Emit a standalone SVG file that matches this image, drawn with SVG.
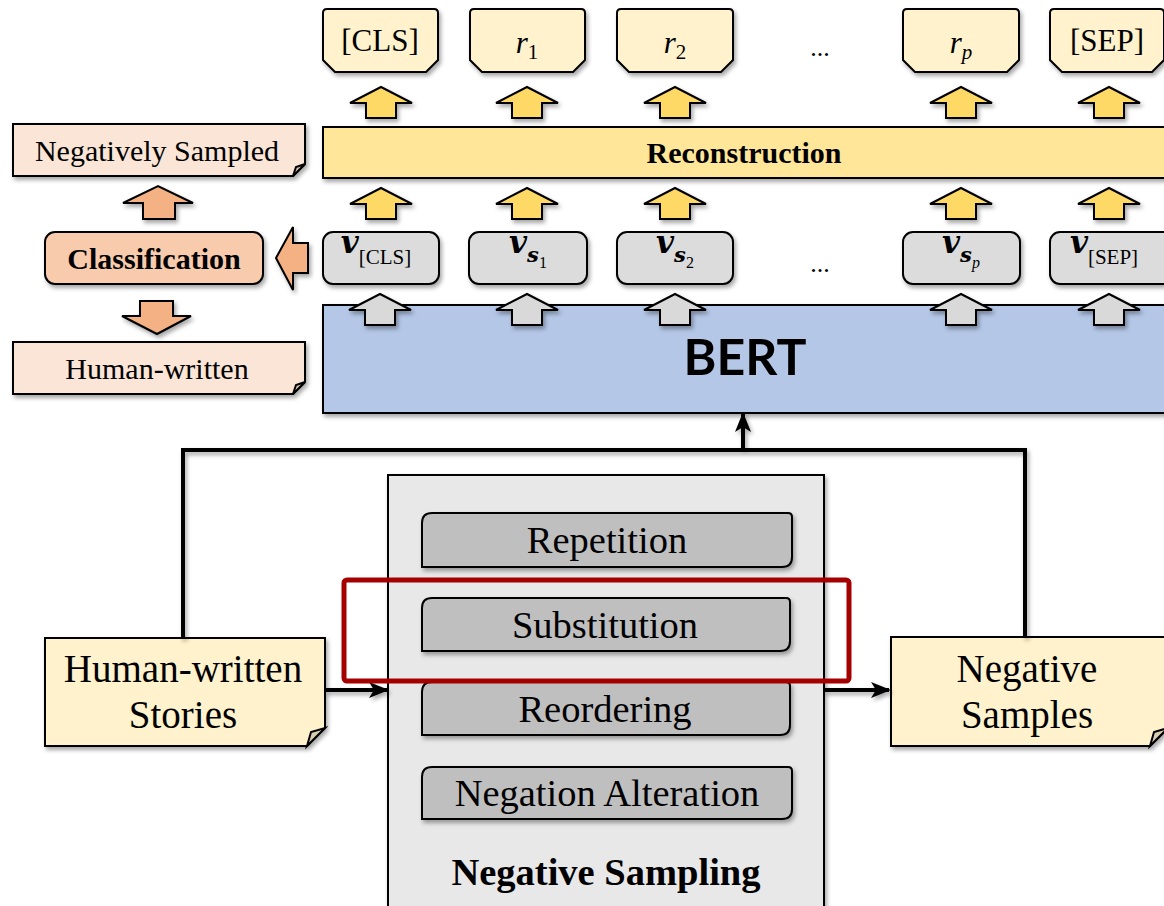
<svg xmlns="http://www.w3.org/2000/svg" xmlns:xlink="http://www.w3.org/1999/xlink" width="1164" height="906" viewBox="0 0 1164 906">
<style>
.s{stroke:#000;stroke-width:2;}
.t{font-family:"Liberation Serif","Times New Roman",serif;fill:#000;text-anchor:middle;}
.b{font-weight:bold;}
.bi{font-family:"DejaVu Serif",serif;font-weight:bold;font-style:italic;font-size:31px;}
.bis{font-family:"DejaVu Serif",serif;font-weight:bold;font-style:italic;font-size:21px;}
.sub{font-size:21px;}
.sub2{font-size:16px;}
.out{fill:#FFF2CC;}
.ya{fill:#FFD966;}
.ga{fill:#D9D9D9;}
.oa{fill:#F4B183;}
.vb{fill:#DCDCDC;}
.pk{fill:#FBE5D6;}
.ib{fill:#BFBFBF;}
.conn{fill:none;stroke:#000;stroke-width:4;}
</style>
<defs>
<filter id="sh" x="-10%" y="-10%" width="130%" height="140%">
<feDropShadow dx="2" dy="3" stdDeviation="2" flood-color="#000" flood-opacity="0.35"/>
</filter>
<path id="up" d="M-15,31 V16 H-31 L0,0 L31,16 H15 V31 Z"/>
<marker id="ah" markerUnits="userSpaceOnUse" markerWidth="20" markerHeight="20" viewBox="0 0 20 20" refX="18" refY="10" orient="auto">
<path d="M0,2 L20,10 L0,18 L5,10 Z" fill="#000"/>
</marker>
</defs>
<rect width="1164" height="906" fill="#fff"/>

<!-- output tokens -->
<g id="out-cls" filter="url(#sh)"><path class="out s" d="M327,9 H434 Q438,9 438,13 V60 L426,72 H335 L323,60 V13 Q323,9 327,9 Z"/></g>
<text class="t" x="380" y="51" font-size="31">[CLS]</text>
<g id="out-r1" filter="url(#sh)"><path class="out s" d="M474,9 H581 Q585,9 585,13 V60 L573,72 H482 L470,60 V13 Q470,9 474,9 Z"/></g>
<text class="t" x="527" y="53" font-size="31"><tspan font-style="italic">r</tspan><tspan font-size="21" dy="6">1</tspan></text>
<g id="out-r2" filter="url(#sh)"><path class="out s" d="M621,9 H729 Q733,9 733,13 V60 L721,72 H629 L617,60 V13 Q617,9 621,9 Z"/></g>
<text class="t" x="675" y="53" font-size="31"><tspan font-style="italic">r</tspan><tspan font-size="21" dy="6">2</tspan></text>
<text class="t" x="820" y="56" font-size="26">...</text>
<g id="out-rp" filter="url(#sh)"><path class="out s" d="M907,9 H1015 Q1019,9 1019,13 V60 L1007,72 H915 L903,60 V13 Q903,9 907,9 Z"/></g>
<text class="t" x="961" y="53" font-size="31"><tspan font-style="italic">r</tspan><tspan font-size="21" font-style="italic" dy="6">p</tspan></text>
<g id="out-sep" filter="url(#sh)"><path class="out s" d="M1054,9 H1160 Q1164,9 1164,13 V60 L1152,72 H1062 L1050,60 V13 Q1050,9 1054,9 Z"/></g>
<text class="t" x="1107" y="51" font-size="31">[SEP]</text>

<!-- yellow arrows row 1 -->
<g id="arrows-top" filter="url(#sh)">
<use href="#up" class="ya s" x="381" y="87"/>
<use href="#up" class="ya s" x="527" y="87"/>
<use href="#up" class="ya s" x="675" y="87"/>
<use href="#up" class="ya s" x="961" y="87"/>
<use href="#up" class="ya s" x="1109" y="87"/>
</g>

<!-- Reconstruction -->
<g id="reconstruction">
<rect x="323" y="127" width="850" height="51" fill="#FFE699" class="s" filter="url(#sh)"/>
<text class="t b" x="744" y="163" font-size="30">Reconstruction</text>
</g>

<!-- yellow arrows row 2 -->
<g id="arrows-mid" filter="url(#sh)">
<use href="#up" class="ya s" x="381" y="188"/>
<use href="#up" class="ya s" x="527" y="188"/>
<use href="#up" class="ya s" x="675" y="188"/>
<use href="#up" class="ya s" x="961" y="188"/>
<use href="#up" class="ya s" x="1109" y="188"/>
</g>

<!-- v boxes -->
<g id="v-cls"><rect x="323" y="232" width="116" height="52" rx="10" class="vb s" filter="url(#sh)"/>
<text class="t" x="376" y="253"><tspan class="bi">v</tspan><tspan class="sub" dy="11">[CLS]</tspan></text></g>
<g id="v-s1"><rect x="469" y="232" width="118" height="52" rx="10" class="vb s" filter="url(#sh)"/>
<text class="t" x="528" y="253"><tspan class="bi">v</tspan><tspan class="bis" dy="9">s</tspan><tspan class="sub2" dy="6">1</tspan></text></g>
<g id="v-s2"><rect x="617" y="232" width="116" height="52" rx="10" class="vb s" filter="url(#sh)"/>
<text class="t" x="675" y="253"><tspan class="bi">v</tspan><tspan class="bis" dy="9">s</tspan><tspan class="sub2" dy="6">2</tspan></text></g>
<text class="t" x="820" y="272" font-size="26">...</text>
<g id="v-sp"><rect x="903" y="232" width="117" height="52" rx="10" class="vb s" filter="url(#sh)"/>
<text class="t" x="961" y="253"><tspan class="bi">v</tspan><tspan class="bis" dy="9">s</tspan><tspan class="sub2" dy="6" font-style="italic">p</tspan></text></g>
<g id="v-sep"><rect x="1050" y="232" width="124" height="52" rx="10" class="vb s" filter="url(#sh)"/>
<text class="t" x="1104" y="253"><tspan class="bi">v</tspan><tspan class="sub" dy="11">[SEP]</tspan></text></g>

<!-- BERT -->
<g id="bert">
<rect x="323" y="305" width="850" height="108" fill="#B4C7E7" class="s" filter="url(#sh)"/>
<text x="745" y="375" font-family="Lato,'Noto Sans',sans-serif" font-weight="bold" font-size="50" text-anchor="middle">BERT</text>
</g>

<!-- gray arrows -->
<g id="arrows-bert" filter="url(#sh)">
<use href="#up" class="ga s" x="380" y="294"/>
<use href="#up" class="ga s" x="527" y="294"/>
<use href="#up" class="ga s" x="675" y="294"/>
<use href="#up" class="ga s" x="961" y="294"/>
<use href="#up" class="ga s" x="1109" y="294"/>
</g>

<!-- Left classification -->
<g id="neg-sampled">
<path class="pk s" filter="url(#sh)" d="M13,124 H305 V164 L293,176 H13 Z"/>
<path d="M305,164 L293,176 L296,167 Z" fill="#d9c2b4" class="s" stroke-width="1.5"/>
<text class="t" x="157" y="161" font-size="30">Negatively Sampled</text>
</g>
<g id="arrow-cls-up" filter="url(#sh)"><path class="oa s" d="M143,219 V203 H123 L158,186 L193,203 H175 V219 Z"/></g>
<g id="classification">
<rect x="45" y="232" width="218" height="52" rx="10" fill="#F8CBAD" class="s" filter="url(#sh)"/>
<text class="t b" x="154" y="269" font-size="30">Classification</text>
</g>
<g id="arrow-left" filter="url(#sh)"><path class="oa s" d="M276,258 L293,227 V243 H308 V273 H293 V290 Z"/></g>
<g id="arrow-cls-down" filter="url(#sh)"><path class="oa s" d="M140,301 H173 V316 H191 L157,334 L122,316 H140 Z"/></g>
<g id="human-written">
<path class="pk s" filter="url(#sh)" d="M13,342 H305 V382 L293,394 H13 Z"/>
<path d="M305,382 L293,394 L296,385 Z" fill="#d9c2b4" class="s" stroke-width="1.5"/>
<text class="t" x="157" y="379" font-size="30">Human-written</text>
</g>

<!-- Negative sampling -->
<g id="negative-sampling">
<rect x="388" y="475" width="436" height="450" fill="#E8E8E8" class="s" filter="url(#sh)"/>
<text class="t b" x="606" y="885" font-size="38.5">Negative Sampling</text>
</g>
<g id="repetition">
<path class="ib s" filter="url(#sh)" d="M432,513 H788 Q792,513 792,517 V557 Q792,567 782,567 H422 V523 Q422,513 432,513 Z"/>
<text class="t" x="607" y="553" font-size="38.5">Repetition</text>
</g>
<g id="substitution">
<path class="ib s" filter="url(#sh)" d="M432,598 H786 Q790,598 790,602 V641 Q790,651 780,651 H422 V608 Q422,598 432,598 Z"/>
<text class="t" x="605" y="638" font-size="38.5">Substitution</text>
</g>
<g id="reordering">
<path class="ib s" filter="url(#sh)" d="M432,682 H786 Q790,682 790,686 V725 Q790,735 780,735 H422 V692 Q422,682 432,682 Z"/>
<text class="t" x="605" y="722" font-size="38.5">Reordering</text>
</g>
<g id="negation-alteration">
<path class="ib s" filter="url(#sh)" d="M432,767 H788 Q792,767 792,771 V809 Q792,819 782,819 H422 V777 Q422,767 432,767 Z"/>
<text class="t" x="607" y="806" font-size="38.5">Negation Alteration</text>
</g>

<!-- Stories and samples -->
<g id="human-stories">
<path class="out s" filter="url(#sh)" d="M45,638 H325 V728 L307,746 H45 Z"/>
<path d="M325,728 L307,746 L311,732 Z" fill="#d8cdb0" class="s" stroke-width="1.5"/>
<text class="t" x="183" y="682" font-size="39">Human-written</text>
<text class="t" x="183" y="728" font-size="39">Stories</text>
</g>
<g id="negative-samples">
<path class="out s" filter="url(#sh)" d="M891,637 H1168 V728 L1150,746 H891 Z"/>
<path d="M1168,728 L1150,746 L1154,732 Z" fill="#d8cdb0" class="s" stroke-width="1.5"/>
<text class="t" x="1027" y="682" font-size="39">Negative</text>
<text class="t" x="1027" y="728" font-size="39">Samples</text>
</g>

<!-- connectors -->
<g id="connectors" filter="url(#sh)">
<path class="conn" d="M183,638 V450 H1025 V637"/>
<path class="conn" d="M743,450 V414" marker-end="url(#ah)"/>
<path class="conn" d="M325,690 H387" marker-end="url(#ah)"/>
<path class="conn" d="M824,690 H889" marker-end="url(#ah)"/>
</g>

<!-- highlight -->
<g id="highlight">
<rect x="344" y="580" width="505" height="101" rx="3" fill="none" stroke="#A50000" stroke-width="5"/>
</g>
</svg>
